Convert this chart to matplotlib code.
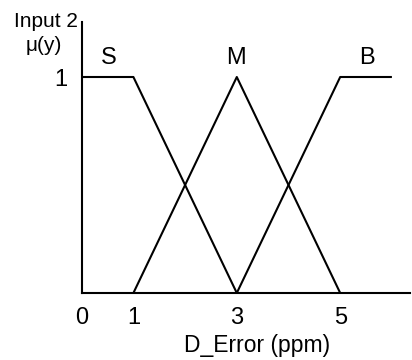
import matplotlib
matplotlib.use("Agg")
import matplotlib.pyplot as plt

plt.rcParams['font.family'] = ['Liberation Sans', 'DejaVu Sans']

# Membership functions
s_x = [0, 1, 3]
s_y = [1, 1, 0]
m_x = [1, 3, 5]
m_y = [0, 1, 0]
b_x = [3, 5, 6]
b_y = [0, 1, 1]
set_names = ["S", "M", "B"]
name_x = [0.53, 2.98, 5.52]
xticks = [0, 1, 3, 5]
yticks = [1]

fig = plt.figure(figsize=(4.12, 3.6), dpi=100)
ax = fig.add_axes([81.7/412, 67/360, (410-81.7)/412, (338-67)/360])

for xs, ys in [(s_x, s_y), (m_x, m_y), (b_x, b_y)]:
    ax.plot(xs, ys, color='black', lw=1.5, solid_capstyle='butt', clip_on=False)

for name, nx in zip(set_names, name_x):
    ax.text(nx, 1.09, name, ha='center', va='center', fontsize=17)

ax.set_xlim(0, (410-81.7)/51.7)
ax.set_ylim(0, (293-22)/216)
ax.set_xticks(xticks)
ax.set_xticklabels([str(t) for t in xticks], fontsize=17)
ax.set_yticks(yticks)
ax.set_yticklabels([str(t) for t in yticks], fontsize=17)
ax.tick_params(length=0)
ax.tick_params(axis='x', pad=10)
ax.tick_params(axis='y', pad=10)
for s in ['top', 'right']:
    ax.spines[s].set_visible(False)
for s in ['left', 'bottom']:
    ax.spines[s].set_linewidth(1.5)

ax.text(3.39, -0.245, "D_Error (ppm)", ha='center', va='center', fontsize=16.5, clip_on=False)
ax.text(-0.69, 1.255, "Input 2", ha='center', va='center', fontsize=15, clip_on=False)
ax.text(-0.74, 1.145, "μ(y)", ha='center', va='center', fontsize=15, clip_on=False)

fig.savefig("out.png", dpi=100)
